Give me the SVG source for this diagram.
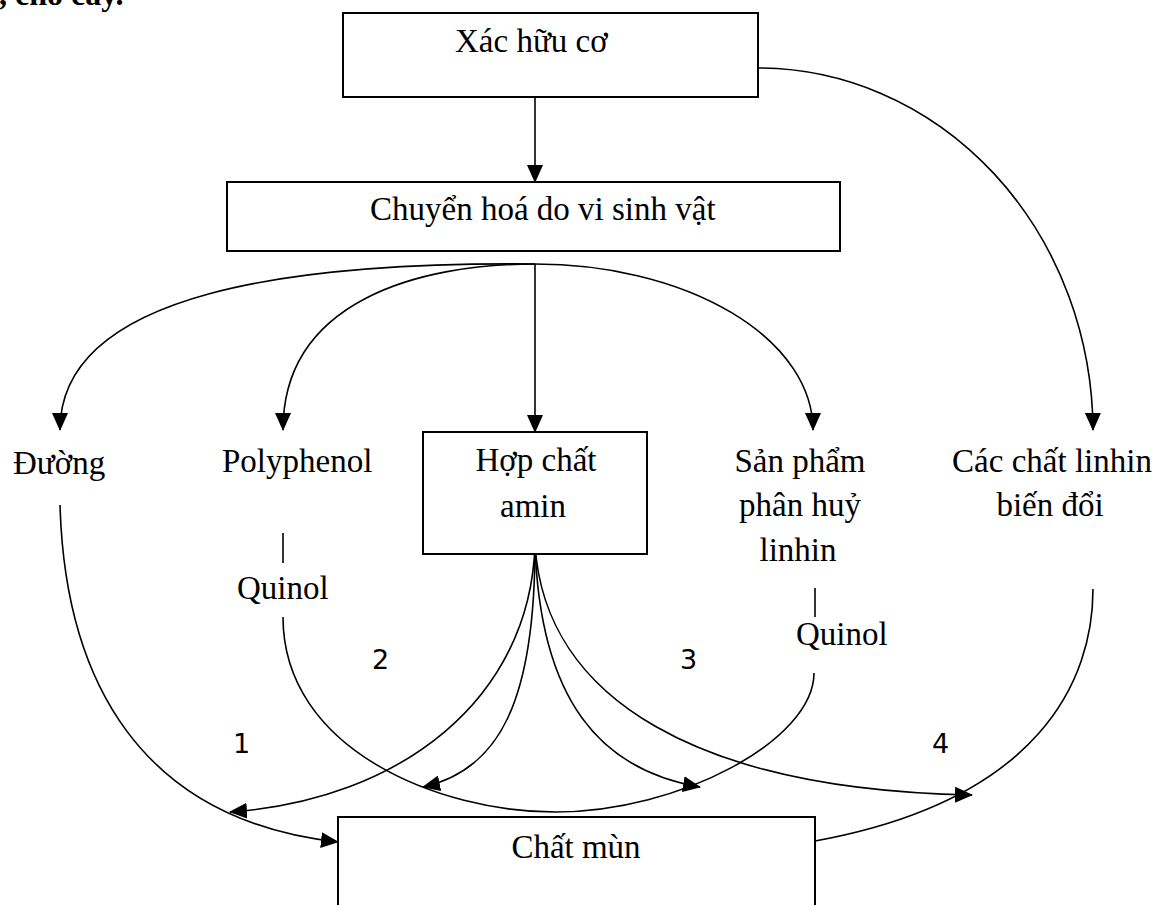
<svg xmlns="http://www.w3.org/2000/svg" width="1168" height="905" viewBox="0 0 1168 905">
<style>
  .box{fill:#fff;stroke:#000;stroke-width:2}
  .t{font-family:"Liberation Serif","Times New Roman",serif;font-size:33px;fill:#000}
  .n{font-family:"DejaVu Sans",sans-serif;font-size:27px;fill:#000}
  .c{fill:none;stroke:#000;stroke-width:1.6}
  .ca{fill:none;stroke:#000;stroke-width:1.6;marker-end:url(#ah)}
</style>
<defs>
  <marker id="ah" markerUnits="userSpaceOnUse" markerWidth="18" markerHeight="16" viewBox="0 0 18 16" refX="17" refY="8" orient="auto">
    <path d="M0,0 L18,8 L0,16 z" fill="#000"/>
  </marker>
</defs>
<rect width="1168" height="905" fill="#fff"/>
<text x="-1" y="5" font-family="Liberation Serif, serif" font-size="32" font-weight="bold">, cho cây.</text>

<g id="connectors">
  <line class="ca" x1="535" y1="97" x2="535" y2="182"/>
  <path class="ca" d="M535,264 C300,262 60,290 60,430"/>
  <path class="ca" d="M535,264 C420,264 283,300 283,430"/>
  <line class="ca" x1="535" y1="264" x2="535" y2="432"/>
  <path class="ca" d="M535,264 A278,166 0 0 1 813,430"/>
  <path class="ca" d="M758,68 A335,364 0 0 1 1093,430"/>
  <line class="c" x1="283" y1="533" x2="283" y2="563"/>
  <line class="c" x1="815" y1="588" x2="815" y2="617"/>
  <path class="ca" d="M60,505 C65,680 140,820 338,842"/>
  <path class="c" d="M283,617 C283,750 440,812 555,812 C680,812 814,740 814,673"/>
  <path class="c" d="M1093,589 C1093,680 1040,800 815,841"/>
  <path class="ca" d="M535,545 C530,700 400,800 230,812"/>
  <path class="ca" d="M535,545 C535,700 500,770 423,787"/>
  <path class="ca" d="M535,545 C540,700 600,770 700,787"/>
  <path class="ca" d="M535,545 C545,700 700,790 972,795"/>
</g>

<g id="node-xac-huu-co">
  <rect class="box" x="343" y="13" width="415" height="84"/>
  <text class="t" x="455" y="52">Xác hữu cơ</text>
</g>
<g id="node-chuyen-hoa">
  <rect class="box" x="227" y="182" width="613" height="69"/>
  <text class="t" x="370" y="220">Chuyển hoá do vi sinh vật</text>
</g>
<g id="node-duong">
  <text class="t" x="13" y="474">Đường</text>
</g>
<g id="node-polyphenol">
  <text class="t" x="222" y="472">Polyphenol</text>
  <text class="t" x="237" y="599">Quinol</text>
</g>
<g id="node-hop-chat-amin">
  <rect class="box" x="423" y="432" width="224" height="122"/>
  <text class="t" x="536" y="471" text-anchor="middle">Hợp chất</text>
  <text class="t" x="533" y="517" text-anchor="middle">amin</text>
</g>
<g id="node-san-pham">
  <text class="t" x="800" y="472" text-anchor="middle">Sản phẩm</text>
  <text class="t" x="800" y="516" text-anchor="middle">phân huỷ</text>
  <text class="t" x="798" y="561" text-anchor="middle">linhin</text>
  <text class="t" x="796" y="645">Quinol</text>
</g>
<g id="node-linhin-bien-doi">
  <text class="t" x="1052" y="472" text-anchor="middle">Các chất linhin</text>
  <text class="t" x="1050" y="516" text-anchor="middle">biến đổi</text>
</g>
<g id="node-chat-mun">
  <rect class="box" x="338" y="817" width="477" height="120"/>
  <text class="t" x="576" y="858" text-anchor="middle">Chất mùn</text>
</g>
<g id="labels">
  <text class="n" x="233" y="753">1</text>
  <text class="n" x="372" y="669">2</text>
  <text class="n" x="680" y="669">3</text>
  <text class="n" x="932" y="753">4</text>
</g>
</svg>
